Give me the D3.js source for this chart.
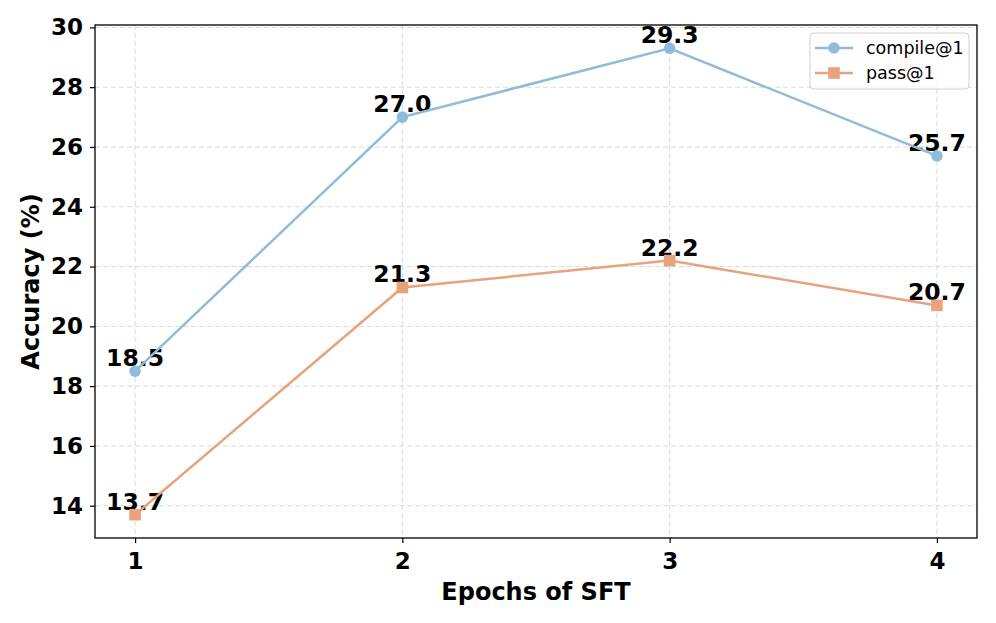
<!DOCTYPE html>
<html><head><meta charset="utf-8">
<script src="https://cdn.jsdelivr.net/npm/d3@7"></script>
<style>body{margin:0;background:#fff;} text{font-family:"DejaVu Sans",sans-serif;}</style>
</head><body>
<svg id="c" width="996" height="623"></svg>
<script>
const epochs = [1, 2, 3, 4];
const compile = [18.5, 27.0, 29.3, 25.7];
const pass = [13.7, 21.3, 22.2, 20.7];
const yTicks = [14, 16, 18, 20, 22, 24, 26, 28, 30];
const seriesNames = ["compile@1", "pass@1"];
const colors = ["#8fbcdb", "#e8a37c"];

const svg = d3.select("#c");
const L = 95, R = 977, T = 25, B = 538;
const x = d3.scaleLinear().domain([0.85, 4.15]).range([L, R]);
const y = d3.scaleLinear().domain([12.92, 30.08]).range([B, T]);

// grid
const g = svg.append("g");
g.selectAll(".gx").data(epochs).join("line")
  .attr("x1", d => x(d)).attr("x2", d => x(d)).attr("y1", T).attr("y2", B)
  .attr("stroke", "#d9d9d9").attr("stroke-dasharray", "5,3").attr("stroke-width", 1);
g.selectAll(".gy").data(yTicks).join("line")
  .attr("x1", L).attr("x2", R).attr("y1", d => y(d)).attr("y2", d => y(d))
  .attr("stroke", "#d9d9d9").attr("stroke-dasharray", "5,3").attr("stroke-width", 1);

// axes
const xAxis = svg.append("g").attr("transform", `translate(0,${B})`)
  .call(d3.axisBottom(x).tickValues(epochs).tickFormat(d3.format("d")).tickSize(5).tickPadding(6));
const yAxis = svg.append("g").attr("transform", `translate(${L},0)`)
  .call(d3.axisLeft(y).tickValues(yTicks).tickSize(5).tickPadding(7));
[xAxis, yAxis].forEach(a => {
  a.select(".domain").remove();
  a.selectAll("line").attr("stroke", "#000").attr("stroke-width", 1.2);
  a.selectAll("text").attr("font-size", 23).attr("font-weight", "bold").attr("fill", "#000")
   .attr("font-family", "DejaVu Sans");
});
xAxis.selectAll("text").attr("dy", "0.85em");
svg.append("rect").attr("x", L).attr("y", T).attr("width", R - L).attr("height", B - T)
  .attr("fill", "none").attr("stroke", "#000").attr("stroke-width", 1.3);

// labels
svg.append("text").attr("x", (L + R) / 2).attr("y", 600).attr("text-anchor", "middle")
  .attr("font-size", 24).attr("font-weight", "bold").text("Epochs of SFT");
svg.append("text").attr("transform", `translate(39,${(T + B) / 2}) rotate(-90)`).attr("text-anchor", "middle")
  .attr("font-size", 24).attr("font-weight", "bold").text("Accuracy (%)");

const data = [compile, pass];
const line = d3.line().x((d, i) => x(epochs[i])).y(d => y(d));

// value labels (behind lines)
data.forEach((vals, s) => {
  svg.append("g").selectAll("text").data(vals).join("text")
    .attr("x", (d, i) => x(epochs[i])).attr("y", d => y(d) - 5)
    .attr("text-anchor", "middle").attr("font-size", 23.5).attr("font-weight", "bold")
    .attr("fill", "#000").text(d => d.toFixed(1));
});

data.forEach((vals, s) => {
  svg.append("path").datum(vals).attr("d", line).attr("fill", "none")
    .attr("stroke", colors[s]).attr("stroke-width", 2.5);
  if (s === 0) {
    svg.append("g").selectAll("circle").data(vals).join("circle")
      .attr("cx", (d, i) => x(epochs[i])).attr("cy", d => y(d)).attr("r", 5.8).attr("fill", colors[s]);
  } else {
    svg.append("g").selectAll("rect").data(vals).join("rect")
      .attr("x", (d, i) => x(epochs[i]) - 5.8).attr("y", d => y(d) - 5.8)
      .attr("width", 11.6).attr("height", 11.6).attr("fill", colors[s]);
  }
});

// legend
const lg = svg.append("g");
lg.append("rect").attr("x", 810).attr("y", 33).attr("width", 159).attr("height", 56).attr("rx", 4)
  .attr("fill", "#fff").attr("fill-opacity", 0.8).attr("stroke", "#d0d0d0").attr("stroke-width", 1);
seriesNames.forEach((n, s) => {
  const yy = 48 + s * 25;
  lg.append("line").attr("x1", 815).attr("x2", 853).attr("y1", yy).attr("y2", yy)
    .attr("stroke", colors[s]).attr("stroke-width", 2.5);
  if (s === 0) lg.append("circle").attr("cx", 834).attr("cy", yy).attr("r", 5.8).attr("fill", colors[s]);
  else lg.append("rect").attr("x", 828.2).attr("y", yy - 5.8).attr("width", 11.6).attr("height", 11.6).attr("fill", colors[s]);
  lg.append("text").attr("x", 866).attr("y", yy).attr("dy", "0.35em").attr("font-size", 17.5).text(n);
});
</script>
</body></html>
